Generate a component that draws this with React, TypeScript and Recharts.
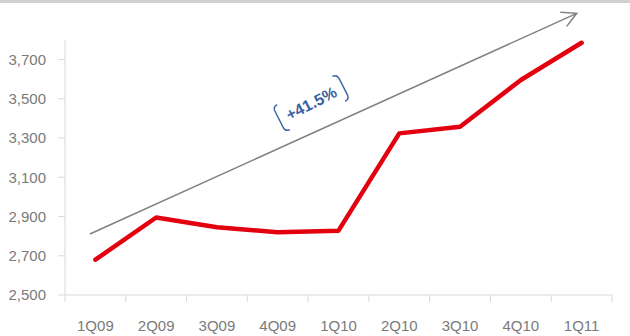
import React from 'react';
import { LineChart, Line, XAxis, YAxis, ReferenceLine, ReferenceDot } from 'recharts';

const categories = ['1Q09', '2Q09', '3Q09', '4Q09', '1Q10', '2Q10', '3Q10', '4Q10', '1Q11'];
const values = [2680, 2895, 2845, 2820, 2828, 3324, 3358, 3596, 3786];
const yTicks = [2500, 2700, 2900, 3100, 3300, 3500, 3700];
const yDomain = [2500, 3800];
const trendStart = { x: 0.41, y: 2811 };
const trendEnd = { x: 8.42, y: 3936 };
const annotationText = '+41.5%';
const annotationPos = { x: 4.05, y: 3479 };

const W = 630;
const H = 336;
const MARGIN = { top: 40, right: 18, left: 0, bottom: 0 };
const Y_AXIS_W = 65;
const X_AXIS_H = 41;
const PLOT_W = W - MARGIN.left - MARGIN.right - Y_AXIS_W;
const BAND = PLOT_W / categories.length;
const FONT = '"Liberation Sans", Arial, sans-serif';
const AXIS_COLOR = '#d9d9d9';
const TEXT_COLOR = '#7a7a7a';

const data = categories.map((c, i) => ({ x: i + 0.5, name: c, value: values[i] }));
const xTicks = Array.from({ length: categories.length + 1 }, (_, i) => i);

const XTick = (props: any) => {
  const { x, y, payload } = props;
  const v = payload.value as number;
  return (
    <g>
      <line x1={x} y1={y} x2={x} y2={y + 7} stroke={AXIS_COLOR} strokeWidth={1} />
      {v < categories.length && (
        <text x={x + BAND / 2} y={y + 36} textAnchor="middle" fontSize={15} fontFamily={FONT} fill={TEXT_COLOR}>
          {categories[v]}
        </text>
      )}
    </g>
  );
};

const ArrowShape = (props: any) => {
  const { x1, y1, x2, y2 } = props;
  if ([x1, y1, x2, y2].some((v) => typeof v !== 'number' || isNaN(v))) return null;
  const ang = Math.atan2(y1 - y2, x1 - x2);
  const len = 16.5;
  const spread = (28 * Math.PI) / 180;
  const ax = x2 + len * Math.cos(ang + spread);
  const ay = y2 + len * Math.sin(ang + spread);
  const bx = x2 + len * Math.cos(ang - spread);
  const by = y2 + len * Math.sin(ang - spread);
  return (
    <g>
      <line x1={x1} y1={y1} x2={x2} y2={y2} stroke="#808080" strokeWidth={1.5} />
      <polyline points={`${ax},${ay} ${x2},${y2} ${bx},${by}`} fill="none" stroke="#808080" strokeWidth={1.5} />
    </g>
  );
};

const LabelShape = (props: any) => {
  const { cx, cy } = props;
  if (typeof cx !== 'number' || typeof cy !== 'number') return null;
  const c = '#3a62a0';
  return (
    <g transform={`translate(${cx},${cy}) rotate(-27)`}>
      <path d="M -31 -14 Q -36 -14 -36 -9 L -36 9 Q -36 14 -31 14" fill="none" stroke={c} strokeWidth={1.4} />
      <path d="M 31 -14 Q 36 -14 36 -9 L 36 9 Q 36 14 31 14" fill="none" stroke={c} strokeWidth={1.4} />
      <text x={0} y={6} textAnchor="middle" fontSize={16} fontWeight="bold" fontFamily={FONT} fill={c}>
        {annotationText}
      </text>
    </g>
  );
};

export default function App() {
  return (
    <div style={{ position: 'absolute', left: 0, top: 0, width: W, height: H, background: '#fff' }}>
      <div style={{ position: 'absolute', left: 0, top: 0, width: W, height: 3, background: '#d0d0d0' }} />
      <LineChart width={W} height={H} data={data} margin={MARGIN}>
        <XAxis
          dataKey="x"
          type="number"
          domain={[0, categories.length]}
          ticks={xTicks}
          interval={0}
          tickSize={0}
          tickMargin={0}
          tickLine={false}
          tick={<XTick />}
          height={X_AXIS_H}
          axisLine={{ stroke: AXIS_COLOR, strokeWidth: 1 }}
          allowDataOverflow
        />
        <YAxis
          type="number"
          domain={yDomain}
          ticks={yTicks}
          interval={0}
          width={Y_AXIS_W}
          tickSize={7}
          tickMargin={12}
          tickLine={{ stroke: AXIS_COLOR }}
          axisLine={{ stroke: AXIS_COLOR, strokeWidth: 1 }}
          tick={{ fontSize: 15, fontFamily: FONT, fill: TEXT_COLOR }}
          tickFormatter={(v: number) => v.toLocaleString('en-US')}
          allowDataOverflow
        />
        <ReferenceLine
          segment={[trendStart, trendEnd]}
          ifOverflow="visible"
          shape={(p: any) => <ArrowShape {...p} />}
        />
        <ReferenceDot
          x={annotationPos.x}
          y={annotationPos.y}
          ifOverflow="visible"
          shape={(p: any) => <LabelShape {...p} />}
        />
        <Line
          type="linear"
          dataKey="value"
          stroke="#e3000f"
          strokeWidth={4.5}
          strokeLinecap="round"
          strokeLinejoin="round"
          dot={false}
          activeDot={false}
          isAnimationActive={false}
        />
      </LineChart>
    </div>
  );
}
